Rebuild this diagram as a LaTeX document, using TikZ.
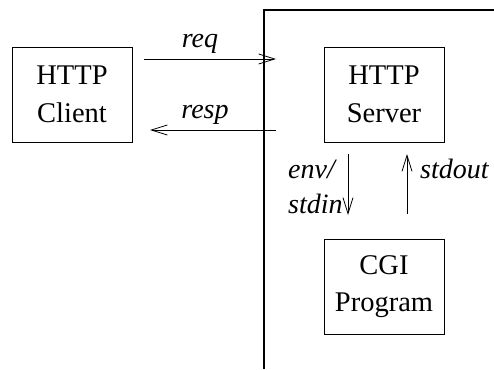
\documentclass[tikz,border=0pt]{standalone}
\usepackage{fontspec}
\setmainfont{Liberation Serif}
\usetikzlibrary{arrows.meta}
\begin{document}
\begin{tikzpicture}[x=1pt,y=-1pt,
  box/.style={draw,line width=1pt,minimum width=120pt,minimum height=95pt,inner sep=0pt,align=center,
    font=\fontsize{28.5}{37.5}\selectfont},
  lbl/.style={inner sep=0pt,font=\fontsize{28}{30}\selectfont\itshape},
  conn/.style={line width=0.9pt,-{Straight Barb[length=16pt,width=10pt,line width=0.8pt]}}]
\useasboundingbox (0,0) rectangle (494,369);
\node[box] (client) at (72,94.5) {HTTP\\Client};
\node[box] (server) at (384,94.5) {HTTP\\Server};
\node[box] (cgi) at (384,286.5) {CGI\\Program};
\coordinate (wallTop) at (264,10);
\coordinate (wallBot) at (264,369);
\coordinate (wallRight) at (494,10);
\draw[line width=2.5pt] (wallBot) -- (wallTop) -- (wallRight);
\coordinate (reqS) at (144,59);
\coordinate (reqE) at (276,59);
\coordinate (respS) at (276,130);
\coordinate (respE) at (150,130);
\draw[conn] (reqS) -- (reqE);
\draw[conn] (respS) -- (respE);
\node[lbl,anchor=base] (reqL) at (200,47) {req};
\node[lbl,anchor=base] (respL) at (205,118) {resp};
\coordinate (downS) at (348,154);
\coordinate (downE) at (348,215);
\coordinate (upS) at (407,214);
\coordinate (upE) at (407,154);
\draw[conn] (downS) -- (downE);
\draw[conn] (upS) -- (upE);
\node[lbl,anchor=base west] (envL) at (288,178) {env/};
\node[lbl,anchor=base west] (stdinL) at (288,213) {stdin};
\node[lbl,anchor=base west] (stdoutL) at (420,178) {stdout};
\end{tikzpicture}
\end{document}
